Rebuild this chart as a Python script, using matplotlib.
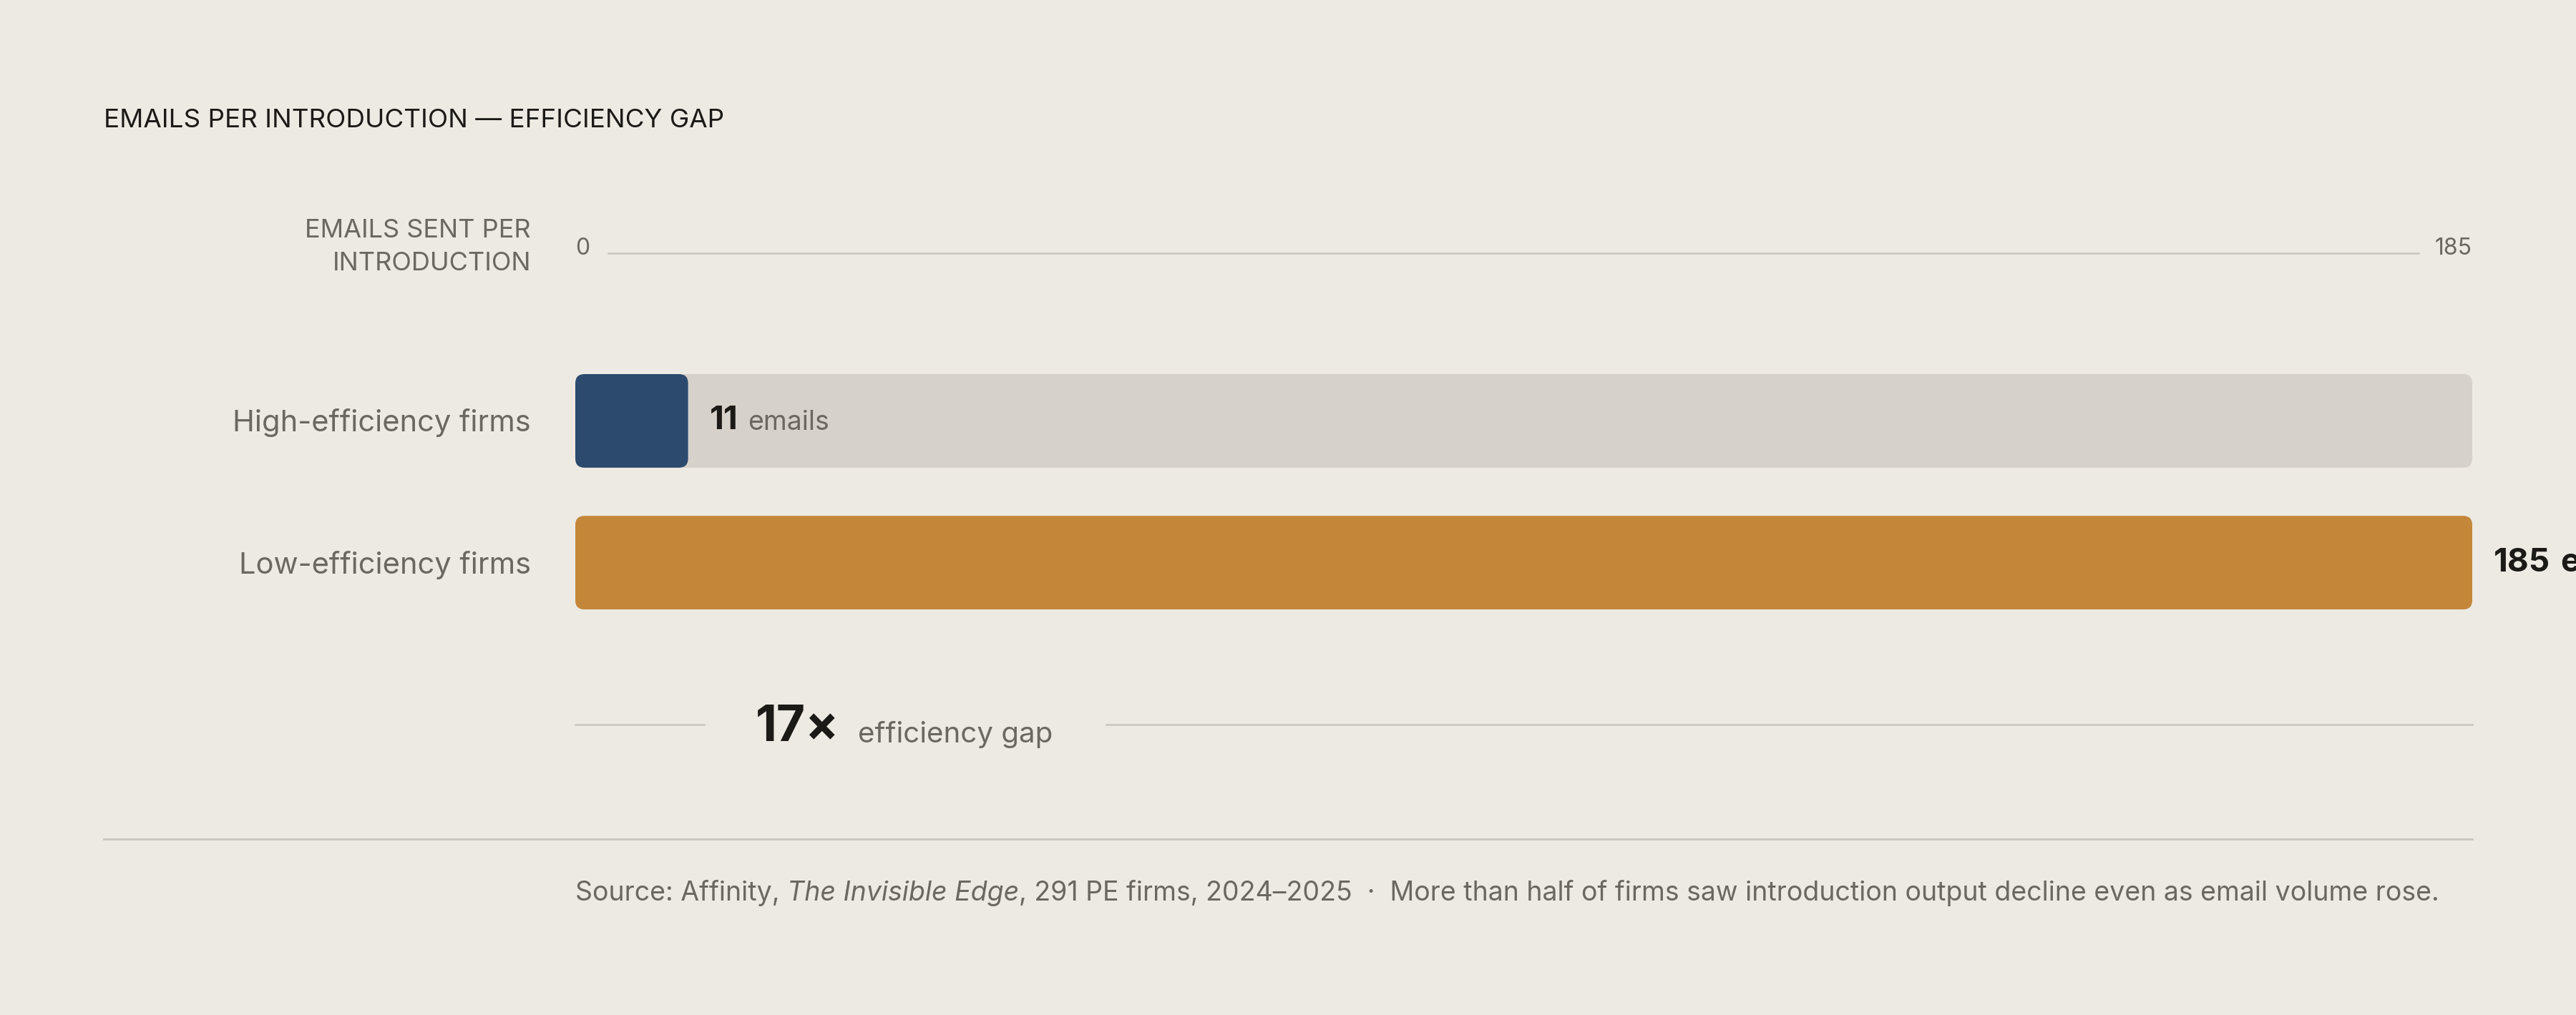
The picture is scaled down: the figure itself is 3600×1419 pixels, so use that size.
import matplotlib.pyplot as plt
from matplotlib.patches import FancyBboxPatch
from matplotlib.lines import Line2D
from matplotlib.transforms import blended_transform_factory

plt.rcParams['font.family'] = ['Inter', 'DejaVu Sans']

# data
groups = ['High-efficiency firms', 'Low-efficiency firms']
emails = [11, 185]
bar_colors = ['#2b4a6e', '#c4873a']
axis_max = 185
axis_ticks = [0, 185]
gap_ratio = 17
title = 'EMAILS PER INTRODUCTION — EFFICIENCY GAP'
axis_title = 'EMAILS SENT PER\nINTRODUCTION'
source_a = 'Source: Affinity,'
source_b = 'The Invisible Edge'
source_c = ', 291 PE firms, 2024–2025  ·  More than half of firms saw introduction output decline even as email volume rose.'

BG = '#edeae3'
TRACK = '#d6d1ca'
RULE = '#c9c5bd'
DARK = '#1c1a17'
GREY = '#6b6861'

W, H = 3600, 1419
fig = plt.figure(figsize=(W / 100, H / 100), dpi=100)
fig.patch.set_facecolor(BG)


def fx(px):
    return px / W


def fy(py):
    return 1 - py / H


PT = 0.72  # points per pixel at dpi 100

# bar area
x0, x1 = 804, 3455
y_top, y_bot = 523, 852
bar_h = 0.66
ax = fig.add_axes([fx(x0), fy(y_bot), (x1 - x0) / W, (y_bot - y_top) / H])
ax.set_xlim(0, axis_max)
ax.set_ylim(len(groups) - 1 + bar_h / 2, -bar_h / 2)
ax.axis('off')

xpp = axis_max / (x1 - x0)
ypp = (len(groups) - 1 + bar_h) / (y_bot - y_top)
rad = 13 * xpp


def rbar(x, y, w, h, color):
    p = FancyBboxPatch((x, y), w, h, boxstyle=f'round,pad=0,rounding_size={rad}',
                       mutation_aspect=ypp / xpp, facecolor=color, edgecolor='none')
    ax.add_patch(p)


lab_tr = blended_transform_factory(fig.transFigure, ax.transData)
for i, (g, v, c) in enumerate(zip(groups, emails, bar_colors)):
    rbar(0, i - bar_h / 2, axis_max, bar_h, TRACK)
    rbar(0, i - bar_h / 2, v, bar_h, c)
    ax.text(fx(742), i + 0.015, g, transform=lab_tr, ha='right', va='center',
            fontsize=30, color=GREY)
    inside = v < axis_max * 0.5
    t1 = ax.annotate(str(v), xy=(v, i), xytext=(30 * PT, 0), textcoords='offset points',
                     ha='left', va='center', fontsize=33, fontweight='bold', color=DARK,
                     annotation_clip=False)
    ax.annotate('emails', xy=(1, 0), xycoords=t1, xytext=(14 * PT, 0),
                textcoords='offset points', ha='left', va='bottom',
                fontsize=27 if inside else 33,
                fontweight='normal' if inside else 'bold',
                color=GREY if inside else DARK, annotation_clip=False)

# title
fig.text(fx(145), fy(168), title, ha='left', va='center', fontsize=26.5,
         color=DARK)

# axis header
fig.text(fx(742), fy(345), axis_title, ha='right', va='center', fontsize=26,
         color=GREY, linespacing=1.5)
tick_tr = blended_transform_factory(ax.transData, fig.transFigure)
ax.text(axis_ticks[0], fy(347), str(axis_ticks[0]), transform=tick_tr, ha='left',
        va='center', fontsize=23, color=GREY)
ax.text(axis_ticks[1], fy(347), str(axis_ticks[1]), transform=tick_tr, ha='right',
        va='center', fontsize=23, color=GREY)
fig.add_artist(Line2D([fx(850), fx(3380)], [fy(354), fy(354)], color=RULE, lw=1.8))

# gap row
fig.add_artist(Line2D([fx(804), fx(984)], [fy(1013), fy(1013)], color=RULE, lw=1.8))
g1 = fig.text(fx(1056), fy(1036), f'{gap_ratio}×', ha='left', va='baseline',
              fontsize=50, fontweight='bold', color=DARK)
g2 = fig.add_artist(plt.Annotation('efficiency gap', xy=(1, fy(1038)),
                                   xycoords=(g1, 'figure fraction'),
                                   xytext=(26 * PT, 0), textcoords='offset points',
                                   ha='left', va='baseline', fontsize=29, color=GREY))
fig.canvas.draw()
r = fig.canvas.get_renderer()
gx = g2.get_window_extent(r).x1 + 74
fig.add_artist(Line2D([gx / W, fx(3455)], [fy(1013), fy(1013)], color=RULE, lw=1.8))

# divider and source
fig.add_artist(Line2D([fx(145), fx(3455)], [fy(1173), fy(1173)], color=RULE, lw=2))
s1 = fig.text(fx(804), fy(1259), source_a, ha='left', va='baseline', fontsize=27,
              color=GREY)
s2 = fig.add_artist(plt.Annotation(source_b, xy=(1, fy(1259)),
                                   xycoords=(s1, 'figure fraction'),
                                   xytext=(10 * PT, 0), textcoords='offset points',
                                   ha='left', va='baseline', fontsize=27,
                                   fontstyle='italic', color=GREY))
fig.add_artist(plt.Annotation(source_c, xy=(1, fy(1259)),
                              xycoords=(s2, 'figure fraction'),
                              xytext=(0, 0), textcoords='offset points',
                              ha='left', va='baseline', fontsize=27, color=GREY))

fig.savefig('out.png', dpi=100, facecolor=BG)
